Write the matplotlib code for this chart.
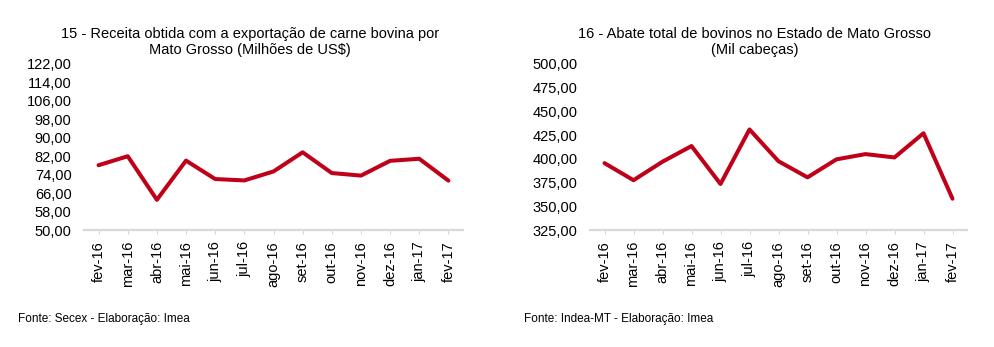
import matplotlib.pyplot as plt
import matplotlib.ticker as mticker
import numpy as np

plt.rcParams['font.family'] = ['Liberation Sans', 'DejaVu Sans']

meses = ['fev-16', 'mar-16', 'abr-16', 'mai-16', 'jun-16', 'jul-16', 'ago-16',
         'set-16', 'out-16', 'nov-16', 'dez-16', 'jan-17', 'fev-17']
receita = [78.1, 82.0, 63.1, 80.1, 72.1, 71.5, 75.4, 83.7, 74.7, 73.6, 80.0, 80.9, 71.4]
abate = [395.5, 377.5, 397.0, 413.5, 373.5, 431.0, 397.5, 380.5, 399.5, 405.0, 401.5, 427.0, 358.0]

titulos = ['15 - Receita obtida com a exportação de carne bovina por\nMato Grosso (Milhões de US$)',
           '16 - Abate total de bovinos no Estado de Mato Grosso\n(Mil cabeças)']
fontes = ['Fonte: Secex - Elaboração: Imea', 'Fonte: Indea-MT - Elaboração: Imea']

W, H = 994, 347
fig = plt.figure(figsize=(W / 100, H / 100), dpi=100)

def fmt(v, pos):
    return f'{v:.2f}'.replace('.', ',')

configs = [
    dict(x0=84, x1=463, dados=receita, ylim=(50, 122), ystep=8, tx=250, fx=18),
    dict(x0=590, x1=967, dados=abate, ylim=(325, 500), ystep=25, tx=755, fx=524),
]

for i, c in enumerate(configs):
    ax = fig.add_axes([c['x0'] / W, 1 - 230 / H, (c['x1'] - c['x0']) / W, (230 - 64) / H])
    x = np.arange(len(meses))
    ax.plot(x, c['dados'], color='#C00018', lw=2.9, solid_capstyle='round')
    ax.set_xlim(-0.5, len(meses) - 0.5)
    ax.set_ylim(*c['ylim'])
    ax.set_yticks(np.arange(c['ylim'][0], c['ylim'][1] + 0.1, c['ystep']))
    ax.yaxis.set_major_formatter(mticker.FuncFormatter(fmt))
    ax.set_xticks(x)
    ax.set_xticklabels(meses, rotation=90)
    for s in ['top', 'right', 'left']:
        ax.spines[s].set_visible(False)
    ax.spines['bottom'].set_color('#d9d9d9')
    ax.spines['bottom'].set_linewidth(1.6)
    ax.tick_params(axis='y', length=0, pad=9, labelsize=10.5)
    ax.tick_params(axis='x', length=3, color='#d9d9d9', pad=5, labelsize=10.5)
    fig.text(c['tx'] / W, 1 - 42 / H, titulos[i], ha='center', va='center',
             fontsize=10.5, linespacing=1.15)
    fig.text(c['fx'] / W, 1 - 319 / H, fontes[i], ha='left', va='center', fontsize=8.5)

fig.savefig('out.png', dpi=100)
